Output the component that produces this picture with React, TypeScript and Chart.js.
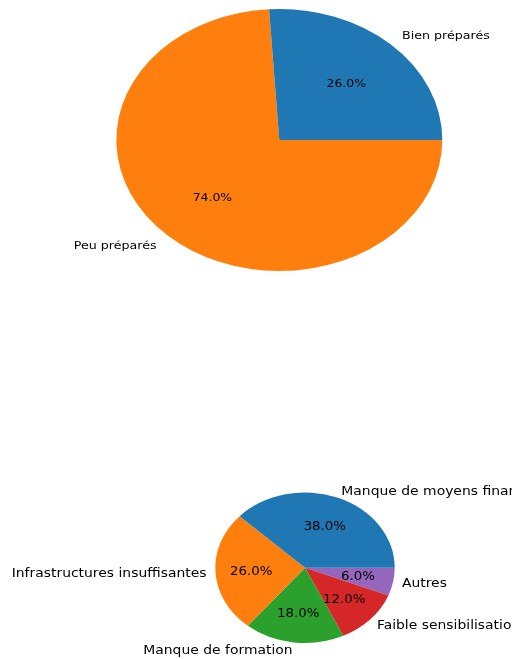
import { useEffect, useRef } from "react";
import { Chart, registerables } from "chart.js";

Chart.register(...registerables);

const prepLabels = ["Bien préparés", "Peu préparés"];
const prepValues = [26, 74];
const prepColors = ["#1f77b4", "#ff7f0e"];

const obstacleLabels = [
  "Manque de moyens financiers",
  "Infrastructures insuffisantes",
  "Manque de formation",
  "Faible sensibilisation",
  "Autres",
];
const obstacleValues = [38, 26, 18, 12, 6];
const obstacleColors = ["#1f77b4", "#ff7f0e", "#2ca02c", "#d62728", "#9467bd"];

const FONT = "'DejaVu Sans', Verdana, sans-serif";
const TEXT_STRETCH = 1.15;

function drawStretched(ctx: any, text: string, x: number, y: number) {
  ctx.save();
  ctx.translate(x, y);
  ctx.scale(TEXT_STRETCH, 1);
  ctx.fillText(text, 0, 0);
  ctx.restore();
}

function ellipsePlugin(id: string, sx: number, labelPx: number, pctPx: number) {
  return {
    id,
    beforeDatasetsDraw(chart: any) {
      const el = chart.getDatasetMeta(0).data[0];
      const ctx = chart.ctx;
      ctx.save();
      ctx.translate(el.x, el.y);
      ctx.scale(sx, 1);
      ctx.translate(-el.x, -el.y);
    },
    afterDatasetsDraw(chart: any) {
      const ctx = chart.ctx;
      ctx.restore();
      const meta = chart.getDatasetMeta(0);
      const values: number[] = chart.data.datasets[0].data;
      const labels: string[] = chart.data.labels;
      const total = values.reduce((a, b) => a + b, 0);
      ctx.save();
      ctx.fillStyle = "#000";
      meta.data.forEach((arc: any, i: number) => {
        const mid = (arc.startAngle + arc.endAngle) / 2;
        const r = arc.outerRadius;
        const c = Math.cos(mid);
        const s = Math.sin(mid);
        ctx.font = `${labelPx}px ${FONT}`;
        ctx.textBaseline = "middle";
        ctx.textAlign = c >= 0 ? "left" : "right";
        drawStretched(ctx, labels[i], arc.x + 1.1 * r * sx * c, arc.y + 1.1 * r * s + 1);
        ctx.font = `${pctPx}px ${FONT}`;
        ctx.textAlign = "center";
        const pct = ((values[i] / total) * 100).toFixed(1) + "%";
        drawStretched(ctx, pct, arc.x + 0.6 * r * sx * c, arc.y + 0.6 * r * s + 1);
      });
      ctx.restore();
    },
  };
}

function PieCanvas(props: {
  labels: string[];
  values: number[];
  colors: string[];
  width: number;
  height: number;
  top: number;
  padding: { left: number; right: number; top: number; bottom: number };
  sx: number;
  labelPx: number;
  pctPx: number;
  id: string;
}) {
  const ref = useRef<HTMLCanvasElement | null>(null);
  useEffect(() => {
    if (!ref.current) return;
    const labels = [...props.labels].reverse();
    const values = [...props.values].reverse();
    const colors = [...props.colors].reverse();
    const chart = new Chart(ref.current, {
      type: "pie",
      data: {
        labels,
        datasets: [
          {
            data: values,
            backgroundColor: colors,
            borderWidth: 0,
          },
        ],
      },
      options: {
        responsive: false,
        animation: false,
        events: [],
        rotation: 90,
        layout: { padding: props.padding },
        plugins: {
          legend: { display: false },
          tooltip: { enabled: false },
        },
      },
      plugins: [ellipsePlugin(props.id, props.sx, props.labelPx, props.pctPx)],
    } as any);
    return () => chart.destroy();
  }, []);
  return (
    <canvas
      ref={ref}
      width={props.width}
      height={props.height}
      style={{
        position: "absolute",
        left: 0,
        top: props.top,
        width: props.width,
        height: props.height,
      }}
    />
  );
}

export default function App() {
  return (
    <div
      style={{
        position: "fixed",
        left: 0,
        top: 0,
        width: 512,
        height: 659,
        background: "#fff",
        overflow: "hidden",
      }}
    >
      <PieCanvas
        id="pieTop"
        labels={prepLabels}
        values={prepValues}
        colors={prepColors}
        width={512}
        height={300}
        top={0}
        padding={{ left: 148.3, right: 101.7, top: 9, bottom: 29 }}
        sx={163 / 131}
        labelPx={11}
        pctPx={10.8}
      />
      <PieCanvas
        id="pieBottom"
        labels={obstacleLabels}
        values={obstacleValues}
        colors={obstacleColors}
        width={512}
        height={219}
        top={440}
        padding={{ left: 229.7, right: 131.7, top: 52.4, bottom: 16 }}
        sx={89.7 / 75.3}
        labelPx={12.1}
        pctPx={11.6}
      />
    </div>
  );
}
